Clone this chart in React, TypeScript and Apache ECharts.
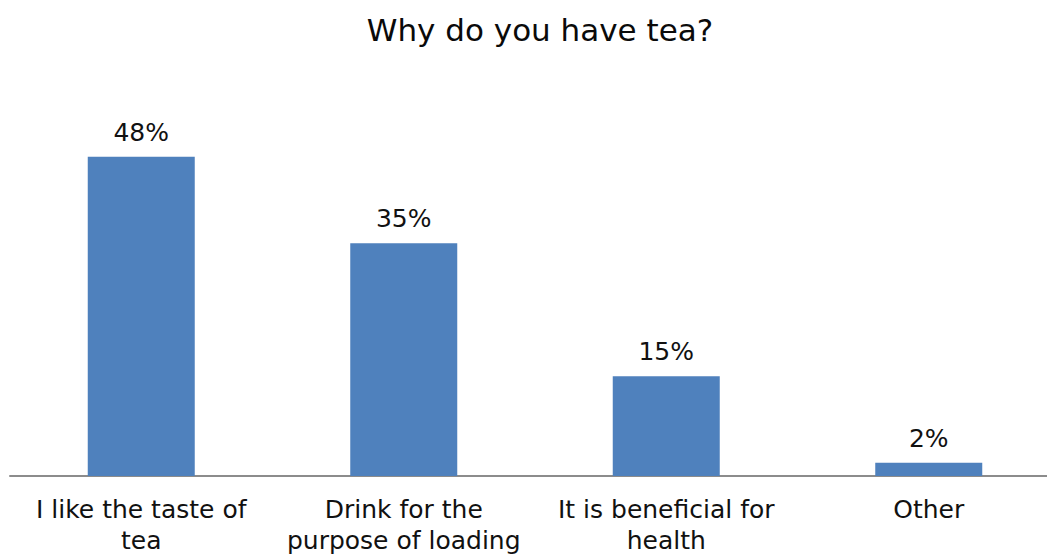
import React, { useEffect, useRef } from "react";
import * as echarts from "echarts";

const titleText = "Why do you have tea?";
const categories = [
  "I like the taste of\ntea",
  "Drink for the\npurpose of loading",
  "It is beneficial for\nhealth",
  "Other",
];
const values = [48, 35, 15, 2];

const FONT = "'DejaVu Sans', 'Open Sans', sans-serif";

export default function App() {
  const ref = useRef<HTMLDivElement>(null);
  useEffect(() => {
    if (!ref.current) return;
    const chart = echarts.init(ref.current, null, { renderer: "svg" });
    chart.setOption({
      animation: false,
      backgroundColor: "#ffffff",
      title: {
        text: titleText,
        left: 535,
        top: 9,
        textAlign: "center",
        textStyle: { fontFamily: FONT, fontSize: 31, fontWeight: "normal", color: "#0a0a0a" },
      },
      grid: { left: 10, top: 77, width: 1050, height: 402, containLabel: false },
      xAxis: {
        type: "category",
        data: categories,
        axisLine: { lineStyle: { color: "#8c8c8c", width: 2 } },
        axisTick: { show: false },
        axisLabel: {
          interval: 0,
          margin: 18,
          fontFamily: FONT,
          fontSize: 25,
          lineHeight: 31,
          color: "#111",
          align: "center",
        },
      },
      yAxis: { type: "value", min: 0, max: 60, show: false, splitLine: { show: false } },
      series: [
        {
          type: "bar",
          data: values,
          barWidth: 107,
          itemStyle: { color: "#4F81BD" },
          label: {
            show: true,
            position: "top",
            distance: 12,
            formatter: "{c}%",
            fontFamily: FONT,
            fontSize: 25,
            color: "#111",
          },
        },
      ],
    });
    return () => chart.dispose();
  }, []);
  return (
    <div
      style={{ position: "fixed", left: 0, top: 0, width: 1047, height: 556, overflow: "hidden", background: "#fff" }}
    >
      <div ref={ref} style={{ width: 1080, height: 556 }} />
    </div>
  );
}
